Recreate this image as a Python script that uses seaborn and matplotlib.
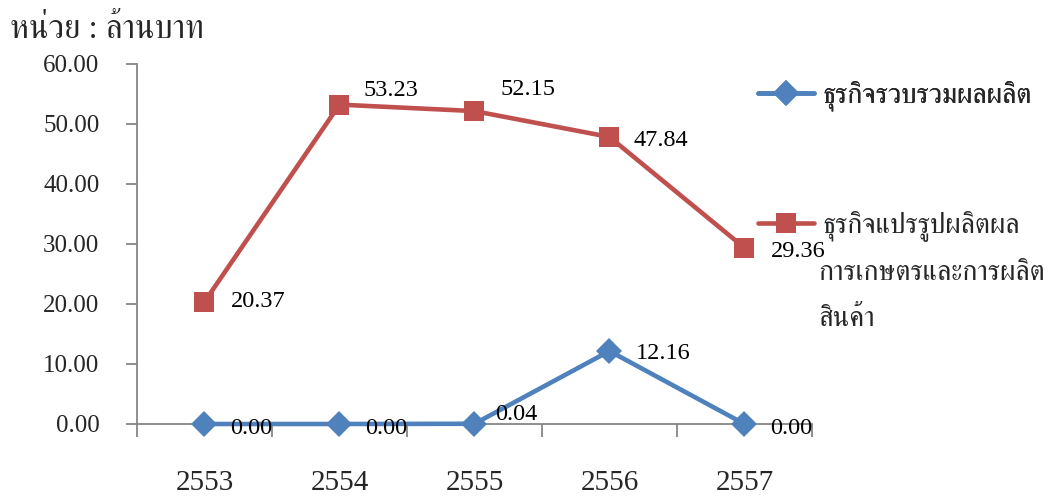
import pandas as pd
import matplotlib
matplotlib.use("Agg")
import matplotlib.pyplot as plt
from matplotlib import font_manager
from matplotlib.ft2font import FT2Font
from matplotlib.ticker import FixedLocator
import seaborn as sns

# ---------- data ----------
years = ["2553", "2554", "2555", "2556", "2557"]
collect_vals = [0.00, 0.00, 0.04, 12.16, 0.00]
process_vals = [20.37, 53.23, 52.15, 47.84, 29.36]

collect_name = "ธุรกิจรวบรวมผลผลิต"
process_name = "ธุรกิจแปรรูปผลิตผล"
process_name_more = ["การเกษตรและการผลิต", "สินค้า"]
unit_text = "หน่วย : ล้านบาท"
y_ticks = [0, 10, 20, 30, 40, 50, 60]

# label offsets in pixels (dx, dy), one per point
collect_offsets = [(26, -4), (26, -4), (21, 9), (26, -2), (26, -4)]
process_offsets = [(26, 0), (24, 14), (26, 22), (24, -4), (26, -4)]


# ---------- find a font with Thai glyphs ----------
def find_thai_font():
    found = []
    for f in font_manager.fontManager.ttflist:
        try:
            cmap = FT2Font(f.fname).get_charmap()
        except Exception:
            continue
        if 0x0E01 in cmap:
            found.append(f.name)
    pref = [n for n in found if "Serif" in n or n in ("Norasi", "Kinnari", "Garuda")]
    if pref:
        return pref[0]
    return found[0] if found else "DejaVu Sans"


thai_font = find_thai_font()

sns.set_style("ticks")
plt.rcParams["font.family"] = ["Liberation Serif", thai_font, "DejaVu Sans"]

blue = "#4F81BD"
red = "#C0504D"
grey = "#868686"

df = pd.DataFrame({
    "year": years * 2,
    "value": collect_vals + process_vals,
    "series": [collect_name] * len(years) + [process_name] * len(years),
})

fig = plt.figure(figsize=(10.53, 5.0), dpi=100)
ax = fig.add_axes([0.1301, 0.152, 0.641, 0.72])

sns.pointplot(
    data=df, x="year", y="value", hue="series",
    hue_order=[process_name, collect_name],
    palette=[red, blue], markers=["s", "D"], linestyles=["-", "-"],
    errorbar=None, legend=False, ax=ax,
)

line_process, line_collect = ax.lines[0], ax.lines[1]
for ln, ms in ((line_process, 14), (line_collect, 13)):
    ln.set_linewidth(3.3)
    ln.set_markersize(ms)
    ln.set_markeredgewidth(0)
    ln.set_clip_on(False)
line_collect.set_zorder(4)
line_process.set_zorder(3)

# data labels
for i, v in enumerate(process_vals):
    ax.annotate(f"{v:.2f}", (i, v), xytext=process_offsets[i],
                textcoords="offset pixels", ha="left", va="center",
                fontsize=17.5, color="black", zorder=6)
for i, v in enumerate(collect_vals):
    ax.annotate(f"{v:.2f}", (i, v), xytext=collect_offsets[i],
                textcoords="offset pixels", ha="left", va="center",
                fontsize=17.5, color="black", zorder=6)

# axes
ax.set_xlim(-0.5, len(years) - 0.5)
ax.set_ylim(0, 60)
ax.set_yticks(y_ticks)
ax.set_yticklabels([f"{t:.2f}" for t in y_ticks], fontsize=18)
ax.set_xlabel("")
ax.set_ylabel("")
ax.tick_params(axis="y", length=8, width=1.3, color=grey, pad=19)
ax.tick_params(axis="x", which="major", length=0, pad=33, labelsize=21)
ax.xaxis.set_minor_locator(FixedLocator([i - 0.5 for i in range(len(years) + 1)]))
ax.tick_params(axis="x", which="minor", length=9, width=1.3, color=grey)

sns.despine(ax=ax)
for s in ("left", "bottom"):
    ax.spines[s].set_color(grey)
    ax.spines[s].set_linewidth(1.3)
ax.spines["bottom"].set_zorder(2)

# legend, two separate boxes so the marker sits on the first text line
leg_kw = dict(frameon=False, fontsize=20, handlelength=2.0, handletextpad=0.3,
              borderpad=0, borderaxespad=0, loc="center left")
leg1 = fig.legend([line_collect], [collect_name],
                  bbox_to_anchor=(758 / 1053, 1 - 96 / 500), **leg_kw)
fig.legend([line_process], [process_name],
           bbox_to_anchor=(758 / 1053, 1 - 226 / 500), **leg_kw)
fig.add_artist(leg1)

for k, txt in enumerate(process_name_more):
    fig.text(818 / 1053, 1 - (273 + 47 * k) / 500, txt, fontsize=20,
             ha="left", va="center")

fig.text(10 / 1053, 1 - 30 / 500, unit_text, fontsize=23.5, ha="left", va="center")

fig.savefig("out.png", dpi=100, facecolor="white")
